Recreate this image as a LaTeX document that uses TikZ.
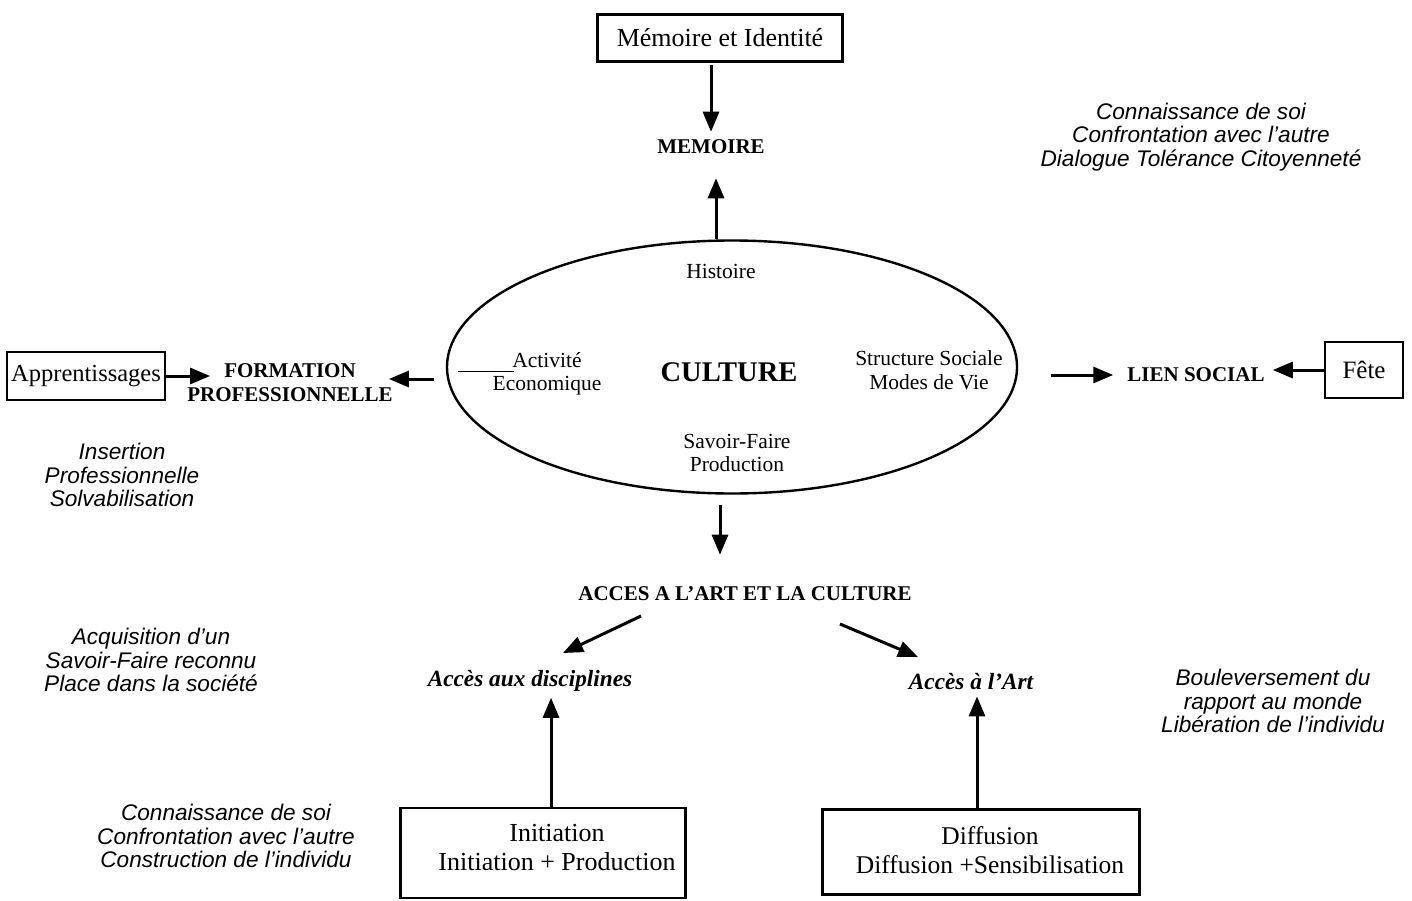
\documentclass[tikz,border=0pt]{standalone}
\usepackage{fontspec}
\setmainfont{Liberation Serif}
\newfontfamily\sansf{Liberation Sans}
\usetikzlibrary{arrows.meta,shapes.geometric,calc}
\begin{document}
\begin{tikzpicture}[x=1pt,y=-1pt,
  arr/.style={line width=3pt,-{Triangle[length=20pt,width=16pt]}},
  box/.style={draw,line width=2.2pt,inner sep=0pt,align=center,font=\fontsize{26}{29}\selectfont},
  boxtext/.style={inner sep=2pt,align=center,font=\fontsize{26}{29}\selectfont},
  lab/.style={inner sep=2pt,align=center,font=\fontsize{21.5}{23.5}\selectfont},
  capt/.style={inner sep=2pt,align=center,font=\bfseries\fontsize{21}{24}\selectfont},
  sub/.style={inner sep=2pt,align=center,font=\bfseries\itshape\fontsize{23.3}{26}\selectfont},
  note/.style={inner sep=2pt,align=center,font=\sansf\itshape\fontsize{22.6}{23.5}\selectfont}]
\useasboundingbox (0,0) rectangle (1412,900);

% boxes
\node[box,minimum width=245pt,minimum height=47pt] (memid) at (720,38) {Mémoire et Identité};
\node[box,minimum width=158pt,minimum height=48pt,font=\fontsize{24.5}{29}\selectfont] (appr) at (86,376) {Apprentissages};
\node[box,minimum width=78pt,minimum height=56pt,font=\fontsize{25}{29}\selectfont] (fete) at (1364,370) {Fête};
\node[box,minimum width=285pt,minimum height=90pt] (init) at (543,853) {};
\node[boxtext] (initt) at (557,848) {Initiation\\Initiation + Production};
\node[box,minimum width=317pt,minimum height=85pt] (diff) at (981,852) {};
\node[boxtext,font=\fontsize{25.5}{29}\selectfont] (difft) at (990,850) {Diffusion\\Diffusion +Sensibilisation};

% ellipse
\node[draw,ellipse,line width=2.4pt,minimum width=570pt,minimum height=253pt,inner sep=0pt] (cult) at (732,367) {};
\node[inner sep=2pt,font=\bfseries\fontsize{28.5}{30}\selectfont] (culture) at (729,372) {CULTURE};
\node[lab] (hist) at (721,271) {Histoire};
\node[lab] (activ) at (547,374) {Activité\\Economique};
\node[lab] (struct) at (929,370) {Structure Sociale\\Modes de Vie};
\node[lab] (savoir) at (737,453) {Savoir-Faire\\Production};
\draw[line width=1pt] (458,371) -- (514,371);

% headings
\node[capt] (memoire) at (711,147) {MEMOIRE};
\node[capt] (formation) at (290,383) {FORMATION\\PROFESSIONNELLE};
\node[capt] (lien) at (1196,375) {LIEN SOCIAL};
\node[capt] (acces) at (745,594) {ACCES A L’ART ET LA CULTURE};
\node[sub] (discipl) at (530,681) {Accès aux disciplines};
\node[sub] (art) at (971,682) {Accès à l’Art};

% notes
\node[note] (n1) at (1201,137) {Connaissance de soi\\Confrontation avec l’autre\\Dialogue Tolérance Citoyenneté};
\node[note] (n2) at (122,475) {Insertion\\Professionnelle\\Solvabilisation};
\node[note] (n3) at (151,660) {Acquisition d’un\\Savoir-Faire reconnu\\Place dans la société};
\node[note] (n4) at (226,836) {Connaissance de soi\\Confrontation avec l’autre\\Construction de l’individu};
\node[note] (n5) at (1273,701) {Bouleversement du\\rapport au monde\\Libération de l’individu};

% connectors
\draw[arr,shorten <=2pt,shorten >=6pt] (memid.south -| memoire) -- (memoire.north);
\draw[arr,shorten >=22pt] ([xshift=-16pt]cult.north) -- ([xshift=5pt]memoire.south);
\draw[arr,shorten <=12pt,shorten >=-6pt] ([yshift=-12pt]cult.west) -- ([yshift=-12pt]cult.west -| formation.east);
\draw[arr,shorten >=-25pt] (appr.east) -- (appr.east -| formation.west);
\draw[arr,shorten <=33pt,shorten >=12pt] (cult.east |- lien) -- (lien.west);
\draw[arr,shorten >=6pt] (fete.west) -- (fete.west -| lien.east);
\draw[arr,shorten <=10pt,shorten >=30pt] ([xshift=-12pt]cult.south) -- ([xshift=-25pt]acces.north);
\draw[arr] ([xshift=-104pt,yshift=-22pt]acces.center) -- ([xshift=33pt,yshift=28pt]discipl.center);
\draw[arr] ([xshift=95pt,yshift=-30pt]acces.center) -- ([xshift=-53pt,yshift=25pt]art.center);
\draw[arr,shorten >=4pt] ([xshift=8pt]init.north) -- ([xshift=21pt]discipl.south);
\draw[arr,shorten >=4pt] ([xshift=-4pt]diff.north) -- ([xshift=6pt]art.south);
\end{tikzpicture}
\end{document}
